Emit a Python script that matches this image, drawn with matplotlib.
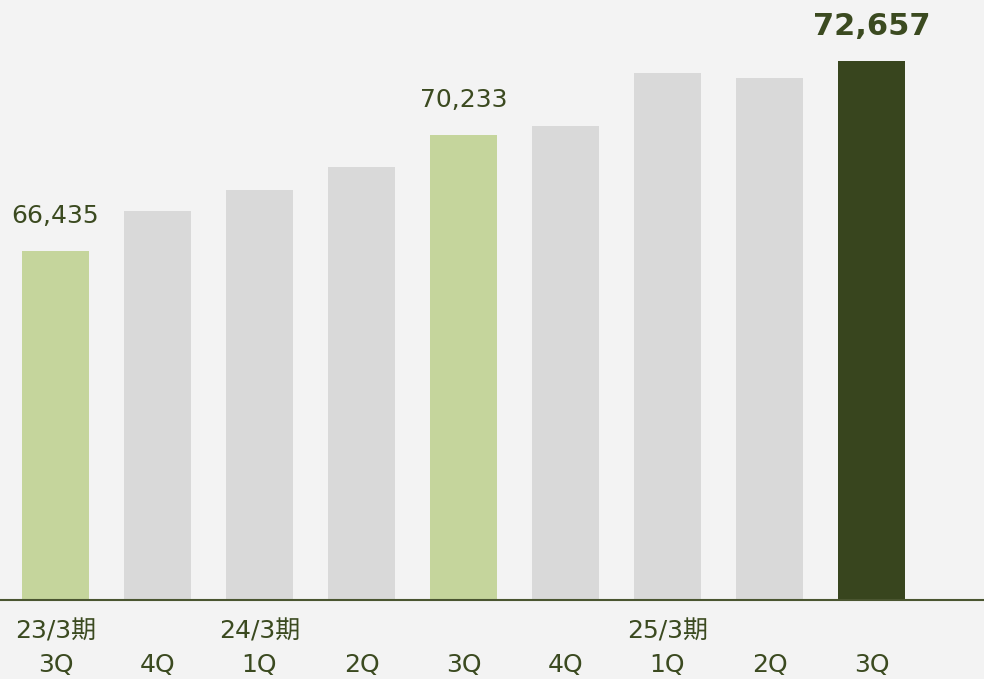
import matplotlib.pyplot as plt

plt.rcParams['font.family'] = ['DejaVu Sans', 'Noto Sans CJK JP']

# Quarterly values
quarters = ['3Q', '4Q', '1Q', '2Q', '3Q', '4Q', '1Q', '2Q', '3Q']
periods = ['23/3期', '', '24/3期', '', '', '', '25/3期', '', '']
values = [66435, 67740, 68420, 69180, 70233, 70520, 72250, 72090, 72657]
labeled = {0: '66,435', 4: '70,233', 8: '72,657'}

bg = '#f3f3f3'
gray = '#d9d9d9'
light_green = '#c5d59c'
dark_green = '#38451e'
text_col = '#3b4a20'

colors = [gray] * len(values)
colors[0] = light_green
colors[4] = light_green
colors[8] = dark_green

fig = plt.figure(figsize=(9.84, 6.79), dpi=100, facecolor=bg)
ax = fig.add_axes([0, 79 / 679, 1, 600 / 679])
ax.set_facecolor(bg)

x = list(range(len(values)))
ax.bar(x, values, width=0.657, color=colors, zorder=2)

ymin = 55000
ax.set_ylim(ymin, ymin + 600 / 0.03054)
ax.set_xlim(-0.544, 8 + 1.103)

for i, txt in labeled.items():
    if i == 8:
        ax.text(i, values[i] + 650, txt, ha='center', va='bottom',
                fontsize=22, fontweight='bold', color=text_col)
    else:
        ax.text(i, values[i] + 750, txt, ha='center', va='bottom',
                fontsize=18, color=text_col)

for s in ['top', 'right', 'left']:
    ax.spines[s].set_visible(False)
ax.spines['bottom'].set_color('#4a5530')
ax.spines['bottom'].set_linewidth(1.5)
ax.set_yticks([])
ax.set_xticks([])

for i in x:
    ax.text(i, -0.108, quarters[i], transform=ax.get_xaxis_transform(),
            ha='center', va='center', fontsize=18, color=text_col)
    if periods[i]:
        ax.text(i, -0.053, periods[i], transform=ax.get_xaxis_transform(),
                ha='center', va='center', fontsize=18, color=text_col)

fig.savefig('out.png', dpi=100, facecolor=bg)
